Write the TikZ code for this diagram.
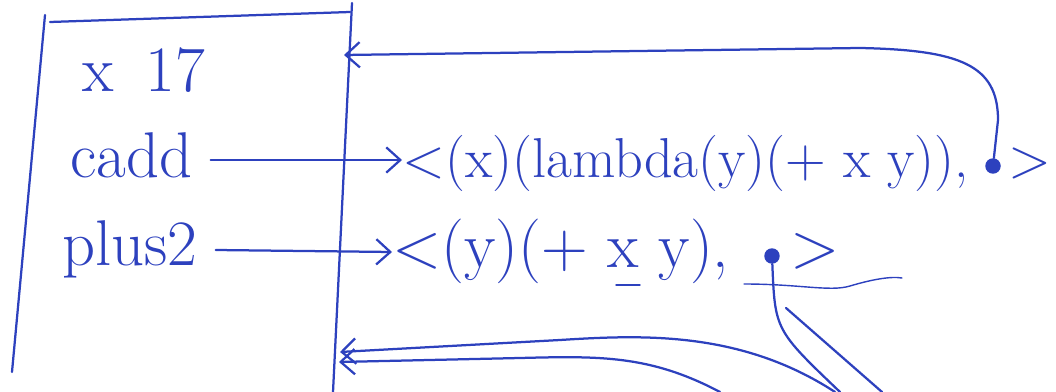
\documentclass[tikz,border=0pt]{standalone}
\usetikzlibrary{arrows.meta}
\definecolor{ink}{RGB}{45,65,190}
\tikzset{
  word/.style={text=ink, font=\fontsize{46}{52}\selectfont, inner sep=0pt, anchor=base west},
  dot/.style={circle, fill=ink, inner sep=0pt, minimum size=11pt},
  pen/.style={draw=ink, line width=1.6pt, line cap=round}
}
\begin{document}
\begin{tikzpicture}[x=0.025cm, y=-0.025cm, >={Straight Barb[length=10pt,width=18pt]}]
\useasboundingbox (0,0) rectangle (1056,392);
% the frame
\draw[pen] (45,15) -- (12,372);
\draw[pen] (50,22) -- (350,12);
\draw[pen] (352,3) -- (333,392);
\coordinate (ret) at (344,55);
\coordinate (in1) at (340,352);
\coordinate (in2) at (339,362);
% names in the frame
\node[word] (x) at (82,92) {x\enspace 17};
\node[word] (cadd) at (70,178) {cadd};
\node[word] (plus) at (62,266) {plus2};
% values
\node[word, font=\fontsize{40}{46}\selectfont] (caddval) at (402,178) {<(x)(lambda(y)(+ x y)),};
\node[dot] (d1) at (993,166) {};
\node[word, font=\fontsize{40}{46}\selectfont] (c1) at (1008,178) {>};
\node[word] (plusval) at (392,268) {<(y)(+ x y),};
\node[word] (c2) at (790,268) {>};
\node[dot] (d2) at (772,256) {};
% bindings
\draw[pen, ->] (cadd.east |- 0,160) ++(18,0) -- (caddval.west |- 0,160);
\draw[pen, ->] (plus.east |- 0,250) ++(18,0) -- (plusval.west |- 0,252);
% environment pointers
\draw[pen, ->] (d1) -- (998,120) .. controls (998,65) and (960,50) .. (860,48) -- (ret);
\draw[pen] (d2) .. controls (775,330) .. (840,392);
\draw[pen] (786,308) -- (882,392);
\draw[pen, ->] (835,392) .. controls (740,330) and (640,335) .. (560,340) -- (in1);
\draw[pen, ->] (720,392) .. controls (650,355) and (600,356) .. (520,358) -- (in2);
% underlines
\draw[pen, line width=1pt] (616,285) -- (640,285);
\draw[pen, line width=1pt] (744,284) .. controls (800,284) and (830,292) .. (850,286) .. controls (870,280) and (890,276) .. (902,278);
\end{tikzpicture}
\end{document}
